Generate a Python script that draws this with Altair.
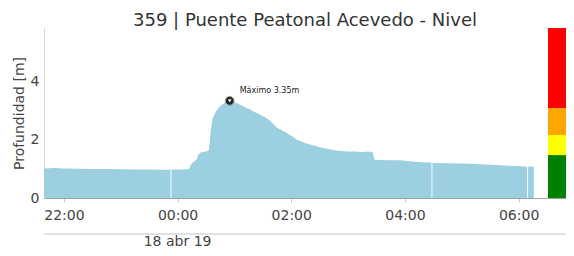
import altair as alt
import pandas as pd

# ---- data ----
times = [
    "2019-04-17T21:39:00", "2019-04-17T21:50:00", "2019-04-17T22:00:00", "2019-04-17T22:15:00",
    "2019-04-17T22:30:00", "2019-04-17T22:45:00", "2019-04-17T23:00:00", "2019-04-17T23:15:00",
    "2019-04-17T23:30:00", "2019-04-17T23:45:00", "2019-04-17T23:52:30", "2019-04-17T23:53:00",
    "2019-04-17T23:53:30", "2019-04-18T00:05:00", "2019-04-18T00:12:00", "2019-04-18T00:14:00",
    "2019-04-18T00:17:00", "2019-04-18T00:20:00", "2019-04-18T00:22:00", "2019-04-18T00:25:00",
    "2019-04-18T00:30:00", "2019-04-18T00:33:00", "2019-04-18T00:35:00", "2019-04-18T00:37:00",
    "2019-04-18T00:40:00", "2019-04-18T00:43:00", "2019-04-18T00:47:00", "2019-04-18T00:51:00",
    "2019-04-18T00:55:00", "2019-04-18T01:00:00", "2019-04-18T01:04:00", "2019-04-18T01:08:00",
    "2019-04-18T01:13:00", "2019-04-18T01:17:00", "2019-04-18T01:20:00", "2019-04-18T01:24:00",
    "2019-04-18T01:28:00", "2019-04-18T01:31:00", "2019-04-18T01:34:00", "2019-04-18T01:38:00",
    "2019-04-18T01:42:00", "2019-04-18T01:45:00", "2019-04-18T01:49:00", "2019-04-18T01:53:00",
    "2019-04-18T01:56:00", "2019-04-18T02:00:00", "2019-04-18T02:04:00", "2019-04-18T02:08:00",
    "2019-04-18T02:12:00", "2019-04-18T02:16:00", "2019-04-18T02:20:00", "2019-04-18T02:25:00",
    "2019-04-18T02:30:00", "2019-04-18T02:34:00", "2019-04-18T02:40:00", "2019-04-18T02:46:00",
    "2019-04-18T02:52:00", "2019-04-18T03:00:00", "2019-04-18T03:08:00", "2019-04-18T03:15:00",
    "2019-04-18T03:21:00", "2019-04-18T03:26:00", "2019-04-18T03:28:00", "2019-04-18T03:35:00",
    "2019-04-18T03:45:00", "2019-04-18T03:55:00", "2019-04-18T04:05:00", "2019-04-18T04:17:00",
    "2019-04-18T04:28:00", "2019-04-18T04:28:30", "2019-04-18T04:29:00", "2019-04-18T04:45:00",
    "2019-04-18T05:00:00", "2019-04-18T05:15:00", "2019-04-18T05:30:00", "2019-04-18T05:45:00",
    "2019-04-18T06:00:00", "2019-04-18T06:09:00", "2019-04-18T06:09:30", "2019-04-18T06:10:00",
    "2019-04-18T06:16:00",
]
levels = [
    1.02, 1.03, 1.02, 1.01,
    1.00, 1.00, 0.99, 0.98,
    0.98, 0.97, 0.97, None,
    0.98, 0.98, 0.99, 1.15,
    1.25, 1.32, 1.50, 1.58,
    1.60, 1.65, 2.30, 2.75,
    2.95, 3.10, 3.22, 3.30,
    3.35, 3.30, 3.25, 3.18,
    3.10, 3.05, 2.98, 2.92,
    2.85, 2.80, 2.75, 2.65,
    2.52, 2.42, 2.35, 2.28,
    2.22, 2.15, 2.05, 1.98,
    1.93, 1.88, 1.84, 1.80,
    1.75, 1.72, 1.68, 1.65,
    1.62, 1.60, 1.60, 1.58,
    1.60, 1.58, 1.32, 1.31,
    1.30, 1.30, 1.27, 1.23,
    1.22, None, 1.21, 1.20,
    1.19, 1.17, 1.15, 1.12,
    1.10, 1.08, None, 1.09,
    1.08,
]

max_time = ["2019-04-18T00:55:00"]
max_value = [3.35]
max_label = ["Máximo 3.35m"]

band_low = [0.0, 1.48, 2.17, 3.10]
band_high = [1.48, 2.17, 3.10, 5.86]
band_color = ["#008000", "#ffff00", "#ffa500", "#ff0000"]
band_start = "2019-04-18T06:31:00"
band_end = "2019-04-18T06:50:00"

domain_start = "2019-04-17T21:39:00"
domain_end = "2019-04-18T06:50:00"
tick_times = ["2019-04-17T22:00:00", "2019-04-18T00:00:00", "2019-04-18T02:00:00",
              "2019-04-18T04:00:00", "2019-04-18T06:00:00"]
date_label = ["18 abr 19"]
date_label_time = ["2019-04-18T00:00:00"]

FONT = "DejaVu Sans"
W, H = 522, 170

def utc_dt(s):
    d, t = s.split("T")
    y, mo, da = [int(v) for v in d.split("-")]
    hh, mm, ss = [int(v) for v in t.split(":")]
    return alt.DateTime(year=y, month=mo, date=da, hours=hh, minutes=mm, seconds=ss, utc=True)

df = pd.DataFrame({"t": [s + "Z" for s in times], "v": levels})
mx = pd.DataFrame({"t": [s + "Z" for s in max_time], "v": max_value, "label": max_label})
bands = pd.DataFrame({"lo": band_low, "hi": band_high, "c": band_color,
                      "t0": band_start + "Z", "t1": band_end + "Z"})
dl = pd.DataFrame({"t": [s + "Z" for s in date_label_time], "label": date_label})
sep = pd.DataFrame({"t0": [domain_start + "Z"], "t1": [domain_end + "Z"]})

xscale = alt.Scale(type="utc", domain=[utc_dt(domain_start), utc_dt(domain_end)])
yscale = alt.Scale(domain=[0, 5.86], nice=False)

x_axis = alt.Axis(format="%H:%M", values=[utc_dt(s) for s in tick_times], grid=False,
                  labelFont=FONT, labelFontSize=14, labelColor="#444444",
                  domainColor="#9aa4ad", tickColor="#c8c8c8", tickSize=4,
                  labelPadding=6, title=None)
y_axis = alt.Axis(values=[0, 2, 4], grid=False, ticks=False, labelFont=FONT,
                  labelFontSize=14, labelColor="#444444", labelPadding=5,
                  domainColor="#d6d6d6", title="Profundidad [m]", titleFont=FONT,
                  titleFontSize=14, titleFontWeight="normal", titleColor="#444444",
                  titlePadding=4)

area = alt.Chart(df).mark_area(color="#9ccfdf", opacity=1).encode(
    x=alt.X("t:T", scale=xscale, axis=x_axis),
    y=alt.Y("v:Q", scale=yscale, axis=y_axis),
)

rects = alt.Chart(bands).mark_rect().encode(
    x="t0:T", x2="t1:T", y="lo:Q", y2="hi:Q",
    color=alt.Color("c:N", scale=None),
)

marker = alt.Chart(mx).mark_point(filled=True, shape="circle", size=75,
                                  color="#222222", stroke="#9a9a9a",
                                  strokeWidth=1, opacity=1).encode(x="t:T", y="v:Q")
marker_in = alt.Chart(mx).mark_point(filled=True, shape="triangle-down", size=14,
                                     color="white", opacity=1).encode(x="t:T", y="v:Q")
mtext = alt.Chart(mx).mark_text(align="left", baseline="middle", dx=10, dy=-10,
                                font=FONT, fontSize=8, color="#222222").encode(
    x="t:T", y="v:Q", text="label:N")

sep_rule = alt.Chart(sep).mark_rule(color="#c0c6cc", strokeWidth=1).encode(
    x="t0:T", x2="t1:T", y=alt.value(H + 36))
date_text = alt.Chart(dl).mark_text(font=FONT, fontSize=14, color="#444444",
                                    baseline="middle").encode(
    x="t:T", y=alt.value(H + 44), text="label:N")

chart = alt.layer(area, rects, marker, marker_in, mtext, sep_rule, date_text).properties(
    width=W, height=H,
    title=alt.TitleParams("359 | Puente Peatonal Acevedo - Nivel", font=FONT, fontSize=18,
                          fontWeight="normal", color="#333333", anchor="middle", offset=-2),
    autosize=alt.AutoSizeParams(type="none"),
    padding={"left": 36, "top": 20, "right": 0, "bottom": 50},
).configure_view(stroke=None)

chart.save("out.html", embed_options={"renderer": "svg", "actions": False})
